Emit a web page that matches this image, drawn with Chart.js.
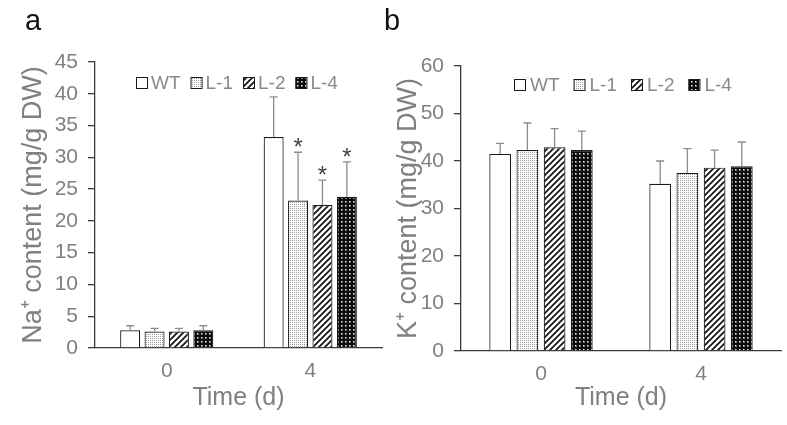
<!DOCTYPE html>
<html><head><meta charset="utf-8">
<script src="https://cdn.jsdelivr.net/npm/chart.js@4.4.1/dist/chart.umd.min.js"></script>
<style>
html,body{margin:0;padding:0;background:#fff;}
#wrap{position:relative;width:787px;height:425px;overflow:hidden;background:#fff;}
#c1{position:absolute;left:0;top:0;}
#c2{position:absolute;left:378px;top:0;}
</style></head><body>
<div id="wrap"><canvas id="c1" width="390" height="425"></canvas><canvas id="c2" width="409" height="425"></canvas></div>
<script>
// ---- data ----
const categories = ['0', '4'];
const seriesNames = ['WT', 'L-1', 'L-2', 'L-4'];

// Panel a: Na+ content (mg/g DW)
const naWT  = [2.8, 33.2];
const naL1  = [2.6, 23.2];
const naL2  = [2.6, 22.5];
const naL4  = [2.8, 23.8];
const naWTsd = [0.7, 6.3];
const naL1sd = [0.5, 7.6];
const naL2sd = [0.5, 3.9];
const naL4sd = [0.7, 5.5];
const naWTsig = [false, false];
const naL1sig = [false, true];
const naL2sig = [false, true];
const naL4sig = [false, true];

// Panel b: K+ content (mg/g DW)
const kWT  = [41.5, 35.2];
const kL1  = [42.3, 37.5];
const kL2  = [42.9, 38.6];
const kL4  = [42.3, 38.9];
const kWTsd = [2.2, 4.8];
const kL1sd = [5.7, 5.1];
const kL2sd = [3.9, 3.7];
const kL4sd = [4.0, 5.1];
const kNoSig = [false, false];

const naTicks = {min: 0, max: 45, step: 5};
const kTicks  = {min: 0, max: 60, step: 10};

// ---- patterns ----
function makeTile(w, h, draw) {
  const c = document.createElement('canvas');
  c.width = w; c.height = h;
  const g = c.getContext('2d');
  draw(g, w, h);
  return document.createElement('canvas').getContext('2d').createPattern(c, 'repeat');
}
const patWT = '#ffffff';
const patL1 = makeTile(2, 2, (g) => {
  g.fillStyle = '#fff'; g.fillRect(0, 0, 2, 2);
  g.fillStyle = '#999'; g.fillRect(0, 0, 1, 1);
});
const patL2 = makeTile(6, 6, (g) => {
  g.fillStyle = '#fff'; g.fillRect(0, 0, 6, 6);
  g.strokeStyle = '#111'; g.lineWidth = 1.7;
  g.beginPath();
  g.moveTo(-1, 7); g.lineTo(7, -1);
  g.moveTo(-4, 4); g.lineTo(4, -4);
  g.moveTo(2, 10); g.lineTo(10, 2);
  g.stroke();
});
const patL4 = makeTile(4, 4, (g) => {
  g.fillStyle = '#0a0a0a'; g.fillRect(0, 0, 4, 4);
  g.fillStyle = '#777'; g.fillRect(1, 1, 2, 2);
  g.fillStyle = '#f4f4f4'; g.fillRect(1, 1, 1, 1);
});
const fills = [patWT, patL1, patL2, patL4];

const FONT = "'Liberation Sans', Arial, sans-serif";
const GRAY = '#808080';
const AXIS = '#3c3c3c';

function makePlugins(cfg) {
  return [{
    id: 'extras',
    afterDatasetsDraw(chart) {
      const ctx = chart.ctx;
      const ys = chart.scales.y;
      ctx.save();
      chart.data.datasets.forEach((ds, i) => {
        const meta = chart.getDatasetMeta(i);
        meta.data.forEach((el, j) => {
          const v = ds.data[j], sd = ds.errors[j];
          const yTop = ys.getPixelForValue(v + sd);
          const yBar = ys.getPixelForValue(v);
          ctx.strokeStyle = '#8c8c8c';
          ctx.lineWidth = 1.3;
          ctx.beginPath();
          ctx.moveTo(el.x, yBar); ctx.lineTo(el.x, yTop);
          ctx.moveTo(el.x - 4, yTop); ctx.lineTo(el.x + 4, yTop);
          ctx.stroke();
          if (ds.sig[j]) {
            ctx.fillStyle = '#404040';
            ctx.font = '24px ' + FONT;
            ctx.textAlign = 'center';
            ctx.textBaseline = 'alphabetic';
            ctx.fillText('*', el.x, yTop + 3);
          }
        });
      });
      ctx.restore();
    },
    afterDraw(chart) {
      const ctx = chart.ctx;
      ctx.save();
      // legend
      let x = cfg.legendX;
      const y = cfg.legendY;
      ctx.font = '19px ' + FONT;
      ctx.textBaseline = 'middle';
      ctx.textAlign = 'left';
      chart.data.datasets.forEach((ds) => {
        ctx.fillStyle = ds.backgroundColor;
        ctx.fillRect(x, y - 5.5, 11, 11);
        ctx.strokeStyle = '#1a1a1a'; ctx.lineWidth = 1;
        ctx.strokeRect(x + 0.5, y - 5.5, 11, 11);
        ctx.fillStyle = '#8a8a8a';
        ctx.fillText(ds.label, x + cfg.boxText, y + 1);
        x += cfg.boxText + ctx.measureText(ds.label).width + cfg.gap;
      });
      // panel letter
      ctx.fillStyle = '#111';
      ctx.font = '29px ' + FONT;
      ctx.textBaseline = 'alphabetic';
      ctx.fillText(cfg.letter, cfg.letterX, 30);
      ctx.restore();
    }
  }];
}

function makeChart(id, cfg) {
  return new Chart(document.getElementById(id), {
    type: 'bar',
    data: {
      labels: categories,
      datasets: cfg.series.map((s, i) => ({
        label: seriesNames[i],
        data: s.values,
        errors: s.sd,
        sig: s.sig,
        backgroundColor: fills[i],
        borderColor: '#1a1a1a',
        borderWidth: 1.2,
        categoryPercentage: 0.68,
        barPercentage: cfg.barPct
      }))
    },
    options: {
      responsive: false,
      animation: false,
      layout: {padding: {left: 0, right: cfg.padRight, top: cfg.padTop, bottom: 0}},
      plugins: {legend: {display: false}, tooltip: {enabled: false}},
      scales: {
        x: {
          grid: {display: false},
          border: {display: true, color: AXIS, width: 1.3},
          ticks: {color: GRAY, font: {family: FONT, size: 21}, padding: 3},
          title: {display: true, text: 'Time (d)', color: GRAY, font: {family: FONT, size: 25}, padding: {top: 0, bottom: 12}},
          afterFit: (s) => { s.height = cfg.xHeight; }
        },
        y: {
          min: cfg.ticks.min, max: cfg.ticks.max,
          grid: {display: true, drawOnChartArea: false, drawTicks: true, tickLength: 7, color: AXIS, lineWidth: 1.3},
          border: {display: true, color: AXIS, width: 1.3},
          ticks: {stepSize: cfg.ticks.step, color: GRAY, font: {family: FONT, size: 21}, padding: 10},
          title: {display: true, text: cfg.yTitle, color: GRAY, font: {family: FONT, size: 27}, padding: {top: cfg.yTitlePad, bottom: 0}},
          afterFit: (s) => { s.width = cfg.yWidth; }
        }
      }
    },
    plugins: makePlugins(cfg)
  });
}

makeChart('c1', {
  series: [
    {values: naWT, sd: naWTsd, sig: naWTsig},
    {values: naL1, sd: naL1sd, sig: naL1sig},
    {values: naL2, sd: naL2sd, sig: naL2sig},
    {values: naL4, sd: naL4sd, sig: naL4sig}
  ],
  ticks: naTicks,
  yTitle: 'Na⁺ content (mg/g DW)',
  barPct: 0.82, padRight: 8, padTop: 62, xHeight: 77, yWidth: 95, yTitlePad: 17,
  legendX: 136, legendY: 83, boxText: 15, gap: 10, letter: 'a', letterX: 25
});
makeChart('c2', {
  series: [
    {values: kWT, sd: kWTsd, sig: kNoSig},
    {values: kL1, sd: kL1sd, sig: kNoSig},
    {values: kL2, sd: kL2sd, sig: kNoSig},
    {values: kL4, sd: kL4sd, sig: kNoSig}
  ],
  ticks: kTicks,
  yTitle: 'K⁺ content (mg/g DW)',
  barPct: 0.8, padRight: 6, padTop: 66, xHeight: 74, yWidth: 83, yTitlePad: 14,
  legendX: 136, legendY: 85, boxText: 16, gap: 14, letter: 'b', letterX: 6
});
</script>
</body></html>
